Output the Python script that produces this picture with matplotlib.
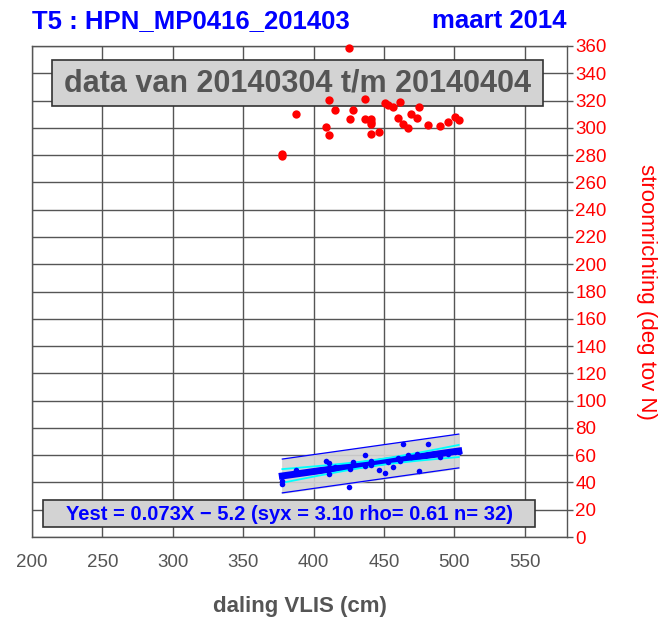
import numpy as np
import matplotlib
matplotlib.use("Agg")
import matplotlib.pyplot as plt
from matplotlib.patches import Rectangle

plt.rcParams['font.family'] = ['Liberation Sans', 'DejaVu Sans']

# Daily samples: water level drop at Vlissingen (cm)
daling = [425.0, 410.9, 436.5, 415.1, 427.9, 387.7, 426.0, 436.5, 409.0, 410.9,
          440.5, 377.8, 377.8, 450.4, 456.2, 461.7, 475.2, 440.9, 440.9, 446.8,
          459.8, 463.3, 466.9, 469.2, 473.3, 481.6, 490.1, 495.3, 500.1, 503.1,
          453.0, 441.0]
# Current direction (deg relative to North)
richting = [358.3, 320.3, 321.0, 313.2, 313.0, 309.8, 306.2, 306.2, 300.7, 294.6,
            295.6, 281.0, 279.5, 318.2, 315.0, 319.1, 315.0, 306.4, 302.7, 297.0,
            307.1, 302.7, 299.6, 310.1, 307.1, 302.0, 301.0, 304.0, 308.1, 305.9,
            316.5, 304.5]
# Current speed, plotted on a hidden 0-180 scale
snelheid = [18.5, 27.0, 30.1, 25.5, 27.5, 24.5, 25.0, 26.0, 27.8, 23.0,
            28.0, 20.5, 19.5, 23.4, 25.8, 28.0, 24.2, 27.5, 26.5, 24.4,
            29.0, 34.2, 30.0, 29.5, 30.5, 34.2, 29.5, 30.5, 31.0, 31.1,
            27.5, 27.0]

# Regression summary
slope, intercept, syx, rho, n = 0.073, -5.2, 3.10, 0.61, 32

x_ticks = [200, 250, 300, 350, 400, 450, 500, 550]
y_ticks = list(range(0, 361, 20))

W, H = 672, 621
grid_col = '#555555'
fig = plt.figure(figsize=(W / 100, H / 100), dpi=100)
rect = [32/W, 1-537/H, 535/W, 491/H]
ax = fig.add_axes(rect)
ax.set_xlim(200, 580)
ax.set_ylim(0, 360)
ax.set_xticks(x_ticks)
ax.set_yticks(y_ticks)
ax.grid(True, color=grid_col, lw=1.0)
ax.set_axisbelow(True)
for s in ax.spines.values():
    s.set_color(grid_col)
    s.set_linewidth(1.0)
ax.yaxis.tick_right()
ax.yaxis.set_label_position('right')
ax.tick_params(axis='y', colors=grid_col, labelcolor='red', labelsize=13.5,
               length=4, width=1.0, pad=2)
ax.tick_params(axis='x', colors=grid_col, labelcolor='#555555', labelsize=13.5,
               length=0, pad=12)
ax.set_xlabel('daling VLIS (cm)', fontsize=16, fontweight='bold', color='#555555',
              labelpad=18)
ax.set_ylabel('stroomrichting (deg tov N)', fontsize=16, color='red',
              rotation=-90, labelpad=36)


def label_box(x0, y0, x1, y1):
    """Grey framed box given in pixel corners (top-left origin)."""
    r = Rectangle((x0 / W, 1 - y1 / H), (x1 - x0) / W, (y1 - y0) / H,
                  transform=fig.transFigure, facecolor='#d3d3d3',
                  edgecolor='#333333', lw=1.2, zorder=10, clip_on=False)
    ax.add_artist(r)


label_box(52, 60, 543, 106)
ax.text(297/W, 1-83/H, 'data van 20140304 t/m 20140404', color='#555555',
        fontsize=22, fontweight='bold', ha='center', va='center',
        transform=fig.transFigure, zorder=11)

label_box(43, 500, 535, 527)
ax.text(289/W, 1-514/H,
        f'Yest = {slope:.3f}X \u2212 {abs(intercept):.1f} (syx = {syx:.2f} rho= {rho:.2f} n= {n})',
        color='blue', fontsize=14.5, fontweight='bold', ha='center', va='center',
        transform=fig.transFigure, zorder=11)

# speed axes overlayed on the same area, without its own ticks or frame
ax2 = fig.add_axes(rect, sharex=ax, frameon=False)
ax2.set_ylim(0, 180)
ax2.set_yticks([])
ax2.tick_params(axis='x', bottom=False, labelbottom=False)

xs = np.array(daling)
xl = np.linspace(xs.min(), xs.max(), 50)
yl = slope * xl + intercept
band = 2 * syx
ax2.fill_between(xl, yl - band, yl + band, color='#d3d3d3', alpha=0.9, zorder=1)
ax2.plot(xl, yl + band, color='blue', lw=0.9, zorder=2)
ax2.plot(xl, yl - band, color='blue', lw=0.9, zorder=2)
xm = xs.mean()
sxx = ((xs - xm) ** 2).sum()
ci = 2 * syx * np.sqrt(1 / n + (xl - xm) ** 2 / sxx)
ax2.plot(xl, yl, color='blue', lw=5, zorder=3)
ax2.plot(xl, yl + ci, color='cyan', lw=1.3, zorder=4)
ax2.plot(xl, yl - ci, color='cyan', lw=1.3, zorder=4)
ax2.scatter(daling, snelheid, s=16, color='blue', zorder=5, linewidths=0)

# direction points, scaled onto the 0-180 axes (0-360 deg)
ax2.scatter(daling, [v / 2 for v in richting], s=36, color='red', zorder=6,
            linewidths=0, clip_on=False)

fig.text(32/W, 1-28/H, 'T5 : HPN_MP0416_201403', color='blue', fontsize=18.5,
         fontweight='bold', ha='left', va='baseline')
fig.text(567/W, 1-28/H, 'maart 2014', color='blue', fontsize=18.5,
         fontweight='bold', ha='right', va='baseline')

fig.savefig('out.png', dpi=100)
